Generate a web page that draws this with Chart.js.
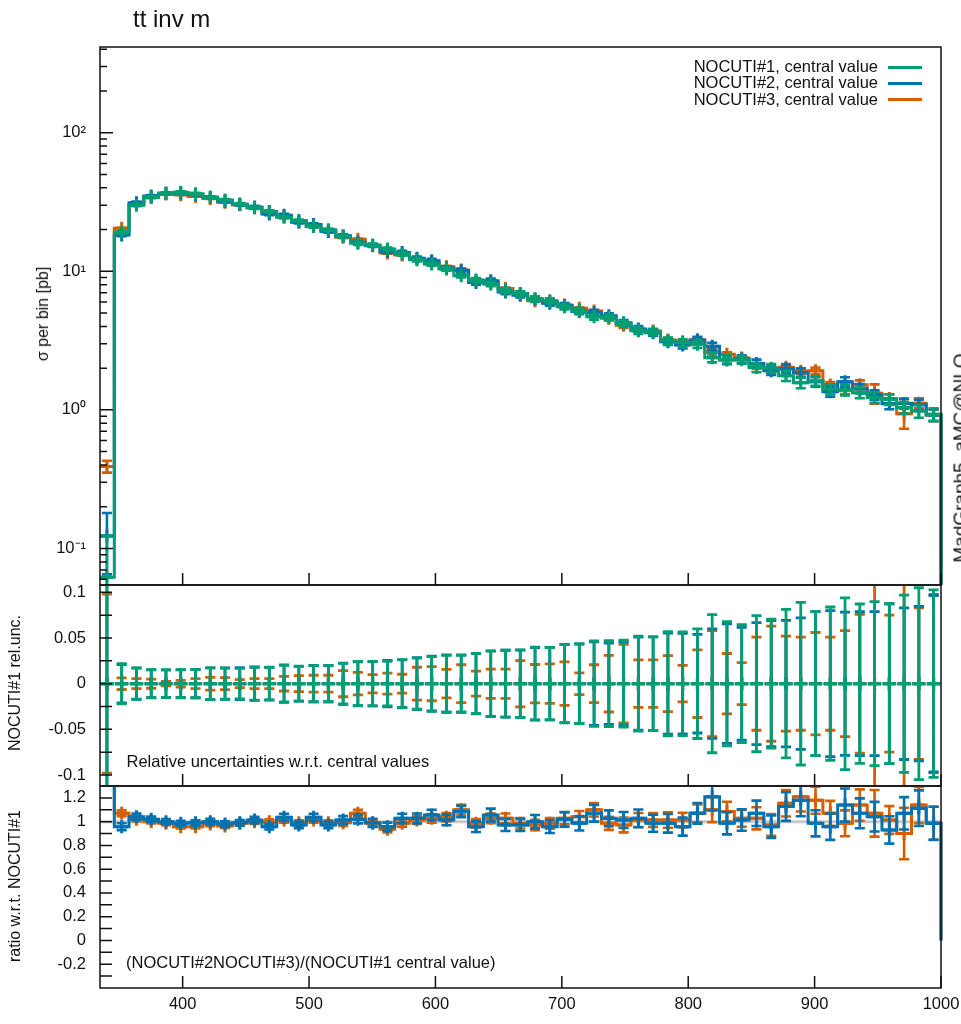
<!DOCTYPE html>
<html><head><meta charset="utf-8">
<script src="https://cdn.jsdelivr.net/npm/chart.js@4.4.1/dist/chart.umd.min.js"></script>
<style>
html,body{margin:0;padding:0;background:#fff;}
#wrap{position:relative;width:961px;height:1024px;overflow:hidden;font-family:"Liberation Sans",Arial,sans-serif;color:#111;}
canvas{position:absolute;left:0;top:0;}
.t{position:absolute;white-space:nowrap;font-size:16.5px;line-height:1;}
.rot{transform:translate(-50%,-50%) rotate(-90deg);}
.lg{position:absolute;height:3px;width:34px;left:888px;}
</style></head>
<body><div id="wrap">
<canvas id="cTop" width="961" height="1024"></canvas>
<canvas id="cRel" width="961" height="1024"></canvas>
<canvas id="cRat" width="961" height="1024"></canvas>
<div class="t" style="left:133px;top:7px;font-size:24px">tt inv m</div>
<div class="t" style="right:83px;top:57.5px;text-align:right">NOCUTI#1, central value</div>
<div class="t" style="right:83px;top:74px;text-align:right">NOCUTI#2, central value</div>
<div class="t" style="right:83px;top:90.5px;text-align:right">NOCUTI#3, central value</div>
<div class="lg" style="top:66px;background:#009E73"></div>
<div class="lg" style="top:82px;background:#0072B2"></div>
<div class="lg" style="top:98px;background:#D55E00"></div>
<div class="t rot" style="left:43px;top:314px;font-size:16px">σ per bin [pb]</div>
<div class="t rot" style="left:15px;top:683px;font-size:16px">NOCUTI#1 rel.unc.</div>
<div class="t rot" style="left:15px;top:886px;font-size:16px">ratio w.r.t. NOCUTI#1</div>
<div class="t rot" style="left:960px;top:458px;font-size:19px">MadGraph5_aMC@NLO</div>
<div class="t" style="left:126.5px;top:752.7px">Relative uncertainties w.r.t. central values</div>
<div class="t" style="left:126px;top:954.3px">(NOCUTI#2NOCUTI#3)/(NOCUTI#1 central value)</div>
</div>
<script>
// ---------------- data ----------------
const binEdges = [334.24,345.92,357.60,369.28,380.96,392.64,404.32,416.00,427.68,439.36,
 451.04,462.72,474.40,486.08,497.76,509.44,521.12,532.80,544.48,556.16,
 567.84,579.52,591.20,602.88,614.56,626.24,637.92,649.60,661.28,672.96,
 684.64,696.32,708.00,719.68,731.36,743.04,754.72,766.40,778.08,789.76,
 801.44,813.12,824.80,836.48,848.16,859.84,871.52,883.20,894.88,906.56,
 918.24,929.92,941.60,953.28,964.96,976.64,988.32,1000.00];
// NOCUTI#1 central value per bin [pb]
const green = [0.062,19.1,30.0,34.2,36.6,37.2,36.2,34.2,32.7,30.6,
 28.7,27.0,24.5,23.2,21.0,19.9,17.8,15.9,15.5,14.5,
 13.3,12.1,11.3,10.4,9.3,8.65,8.1,7.3,6.92,6.31,
 6.13,5.55,5.19,4.70,4.64,4.20,3.72,3.65,3.15,3.06,
 2.98,2.38,2.32,2.30,2.02,2.00,1.76,1.57,1.62,1.41,
 1.40,1.33,1.23,1.19,1.04,0.98,0.93];
// ratio NOCUTI#2 / NOCUTI#1
const ratio2 = [1.98,0.958,1.042,1.02,1.0,0.986,0.99,1.0,0.98,0.99,
 1.014,0.958,1.037,0.972,1.037,0.972,1.014,1.02,0.99,0.958,
 1.028,1.028,1.056,1.014,1.085,0.958,1.056,0.972,0.972,1.0,
 0.958,1.02,0.986,1.07,1.028,1.014,1.028,0.986,0.986,0.958,
 1.07,1.21,0.986,1.014,1.07,0.958,1.127,1.18,0.986,0.958,
 1.14,1.07,1.042,0.93,1.07,1.113,0.986];
// ratio NOCUTI#3 / NOCUTI#1
const ratio3 = [6.3,1.07,1.02,1.0,0.986,0.958,0.958,0.98,0.964,0.986,
 1.0,1.0,1.014,0.99,1.014,0.99,0.99,1.07,0.986,0.935,
 0.986,1.014,1.028,1.037,1.10,0.986,1.028,1.028,0.986,0.972,
 0.986,1.028,1.042,1.10,0.986,0.972,1.014,1.014,1.014,1.014,
 1.07,1.10,1.085,1.028,1.028,0.972,1.155,1.21,1.18,1.07,
 0.986,1.14,1.07,1.014,0.90,1.14,0.986];
// relative uncertainties
const relUnc1 = [1.0,0.022,0.017,0.0154,0.015,0.0154,0.0154,0.0174,0.017,0.0168,
 0.0183,0.018,0.020,0.0192,0.020,0.020,0.0223,0.0244,0.0244,0.0244,
 0.0264,0.028,0.0297,0.031,0.031,0.033,0.0357,0.0366,0.037,0.040,
 0.0396,0.0427,0.0436,0.0467,0.047,0.0476,0.052,0.0513,0.057,0.0568,
 0.060,0.0756,0.068,0.0645,0.0745,0.0705,0.0813,0.089,0.0788,0.0839,
 0.094,0.0872,0.0897,0.0875,0.097,0.105,0.1026];
const relUnc2 = [0.47,0.021,0.0172,0.0152,0.0152,0.015,0.0155,0.0174,0.0172,0.0175,
 0.018,0.0178,0.0205,0.019,0.0198,0.0198,0.0225,0.024,0.0242,0.0255,
 0.026,0.0285,0.0302,0.0315,0.0315,0.0328,0.036,0.0366,0.0368,0.0396,
 0.0396,0.043,0.0434,0.0458,0.0445,0.0458,0.0509,0.0513,0.0553,0.055,
 0.054,0.0599,0.0654,0.0617,0.0668,0.069,0.0692,0.072,0.0788,0.080,
 0.0784,0.0788,0.0788,0.0875,0.083,0.0846,0.0965];
const relUnc3 = [0.098,0.0064,0.0055,0.005,0.0024,0.0037,0.0055,0.007,0.0066,0.0044,
 0.0055,0.0055,0.008,0.0088,0.0092,0.0092,0.0143,0.0123,0.010,0.0115,
 0.0103,0.018,0.0187,0.0156,0.0207,0.0137,0.016,0.016,0.0253,0.021,
 0.0216,0.0238,0.0119,0.0207,0.031,0.043,0.026,0.026,0.0306,0.020,
 0.037,0.058,0.033,0.023,0.051,0.063,0.052,0.051,0.056,0.051,
 0.058,0.076,0.16,0.075,0.22,0.083,0.0976];
// ticks
const xTickValues = [400,500,600,700,800,900,1000];
const xTickLabels = ['400','500','600','700','800','900','1000'];
const sigmaTickValues = [0.1,1,10,100];
const sigmaTickLabels = ['10\u207B\u00B9','10\u2070','10\u00B9','10\u00B2'];
const sigmaMinorTicks = [0.06,0.07,0.08,0.09,0.2,0.3,0.4,0.5,0.6,0.7,0.8,0.9,2,3,4,5,6,7,8,9,20,30,40,50,60,70,80,90,200,300,400];
const relTickValues = [-0.1,-0.05,0,0.05,0.1];
const relTickLabels = ['-0.1','-0.05','0','0.05','0.1'];
const relMinorTicks = [-0.075,-0.025,0.025,0.075];
const ratioTickValues = [-0.2,0,0.2,0.4,0.6,0.8,1,1.2];
const ratioTickLabels = ['-0.2','0','0.2','0.4','0.6','0.8','1','1.2'];
const ratioMinorTicks = [-0.3,-0.1,0.1,0.3,0.5,0.7,0.9,1.1];

// ---------------- helpers ----------------
const C1 = '#009E73', C2 = '#0072B2', C3 = '#D55E00';
const X_MIN = 334.6, X_MAX = 1000;
const CAP = 4; // half cap width in x units
const CLIP = {left: 3, right: 3, top: 0, bottom: 0};

Chart.defaults.font.family = '"Liberation Sans", Arial, sans-serif';
Chart.defaults.font.size = 16.5;
Chart.defaults.color = '#111';

function center(i) { return (binEdges[i] + binEdges[i + 1]) / 2; }
function histPoints(vals, floor) {
  const pts = [{x: binEdges[0], y: floor}];
  for (let i = 0; i < vals.length; i++) {
    pts.push({x: binEdges[i], y: vals[i]});
    pts.push({x: binEdges[i + 1], y: vals[i]});
  }
  pts.push({x: binEdges[vals.length], y: floor});
  return pts;
}
function errPoints(vals, errs, floor, skipAbove) {
  const pts = [];
  for (let i = 0; i < vals.length; i++) {
    if (skipAbove !== undefined && vals[i] > skipAbove) continue;
    const c = center(i);
    let lo = vals[i] - errs[i], hi = vals[i] + errs[i];
    if (floor !== undefined && lo < floor) lo = floor;
    pts.push({x: c, y: lo}, {x: c, y: hi}, {x: c, y: null},
             {x: c - CAP, y: lo}, {x: c + CAP, y: lo}, {x: c, y: null},
             {x: c - CAP, y: hi}, {x: c + CAP, y: hi}, {x: c, y: null});
  }
  return pts;
}
function lineDS(data, color, width, extra) {
  return Object.assign({data, borderColor: color, backgroundColor: color, borderWidth: width,
    pointRadius: 0, pointHoverRadius: 0, fill: false, tension: 0, spanGaps: false,
    borderCapStyle: 'butt', borderJoinStyle: 'miter', clip: CLIP}, extra || {});
}
function markerDS(vals, color) {
  return {data: vals.map((v, i) => ({x: center(i), y: v})), showLine: false,
    pointStyle: 'cross', pointRadius: 6.5, pointHoverRadius: 6.5, pointBorderWidth: 3,
    pointBorderColor: color, pointBackgroundColor: color, borderColor: color, clip: CLIP};
}
function framePlugin(majors, minors, majorLen, minorLen) {
  return {
    id: 'frame',
    afterDatasetsDraw(chart) {
      const {ctx, chartArea: a, scales} = chart;
      ctx.save();
      ctx.strokeStyle = '#111';
      ctx.lineWidth = 1.5;
      ctx.beginPath();
      xTickValues.forEach(v => {
        const px = scales.x.getPixelForValue(v);
        ctx.moveTo(px, a.bottom); ctx.lineTo(px, a.bottom - 12);
      });
      majors.forEach(v => {
        const py = scales.y.getPixelForValue(v);
        ctx.moveTo(a.left, py); ctx.lineTo(a.left + majorLen, py);
      });
      minors.forEach(v => {
        const py = scales.y.getPixelForValue(v);
        ctx.moveTo(a.left, py); ctx.lineTo(a.left + minorLen, py);
      });
      ctx.stroke();
      ctx.strokeRect(a.left, a.top, a.right - a.left, a.bottom - a.top);
      ctx.restore();
    }
  };
}
function xScale(show) {
  return {
    type: 'linear', min: X_MIN, max: X_MAX, bounds: 'data', display: show,
    grid: {display: false, drawTicks: false, tickLength: 0}, border: {display: false},
    afterBuildTicks: s => { s.ticks = xTickValues.map(v => ({value: v})); },
    afterFit: s => { s.height = show ? 30 : 0; s.paddingLeft = 0; s.paddingRight = 0; },
    ticks: {autoSkip: false, maxRotation: 0, padding: 7, color: '#111',
            callback: (v, i) => xTickLabels[i]}
  };
}
function yScale(type, min, max, vals, labels) {
  return {
    type, min, max, bounds: 'data', position: 'left',
    grid: {display: false, drawTicks: false, tickLength: 0}, border: {display: false},
    afterBuildTicks: s => { s.ticks = vals.map(v => ({value: v})); },
    afterFit: s => { s.width = 100; },
    ticks: {autoSkip: false, padding: 14, color: '#111', callback: (v, i) => labels[i]}
  };
}
function baseOptions(pad, scales) {
  return {
    responsive: false, animation: false, devicePixelRatio: 1, events: [],
    layout: {padding: pad},
    plugins: {legend: {display: false}, tooltip: {enabled: false}, title: {display: false}},
    scales
  };
}

// ---------------- top panel ----------------
const blueVals = green.map((g, i) => g * ratio2[i]);
const orangeVals = green.map((g, i) => g * ratio3[i]);
const greenErr = green.map((g, i) => g * relUnc1[i]);
const blueErr = blueVals.map((g, i) => g * relUnc2[i]);
const orangeErr = orangeVals.map((g, i) => g * relUnc3[i]);
const LOGFLOOR = 1e-3;

new Chart(document.getElementById('cTop'), {
  type: 'line',
  data: {datasets: [
    markerDS(green, C1),
    lineDS(errPoints(green, greenErr, LOGFLOOR), C1, 2.6),
    lineDS(histPoints(green, LOGFLOOR), C1, 3),
    markerDS(blueVals, C2),
    lineDS(errPoints(blueVals, blueErr, LOGFLOOR), C2, 2.6),
    lineDS(histPoints(blueVals, LOGFLOOR), C2, 3),
    markerDS(orangeVals, C3),
    lineDS(errPoints(orangeVals, orangeErr, LOGFLOOR), C3, 2.6),
    lineDS(histPoints(orangeVals, LOGFLOOR), C3, 3)
  ]},
  options: baseOptions({top: 47, bottom: 1024 - 585, left: 0, right: 20},
    {x: xScale(false), y: yScale('logarithmic', 0.0545, 415, sigmaTickValues, sigmaTickLabels)}),
  plugins: [framePlugin(sigmaTickValues, sigmaMinorTicks, 13, 7)]
});

// ---------------- relative uncertainty panel ----------------
const zeros = green.map(() => 0);
new Chart(document.getElementById('cRel'), {
  type: 'line',
  data: {datasets: [
    markerDS(zeros, C1),
    lineDS(errPoints(zeros, relUnc1), C1, 2.8),
    markerDS(zeros, C2),
    lineDS(errPoints(zeros, relUnc2), C2, 2.8),
    markerDS(zeros, C3),
    lineDS(errPoints(zeros, relUnc3), C3, 2.8),
    lineDS([{x: binEdges[0], y: 0}, {x: binEdges[binEdges.length - 1], y: 0}], '#c4c4c4', 2.5)
  ]},
  options: baseOptions({top: 585, bottom: 1024 - 786, left: 0, right: 20},
    {x: xScale(false), y: yScale('linear', -0.112, 0.108, relTickValues, relTickLabels)}),
  plugins: [framePlugin(relTickValues, relMinorTicks, 12, 12)]
});

// ---------------- ratio panel ----------------
const ratioErr2 = ratio2.map((r, i) => r * Math.hypot(relUnc1[i], relUnc2[i]));
const ratioErr3 = ratio3.map((r, i) => r * Math.hypot(relUnc1[i], relUnc3[i]));
new Chart(document.getElementById('cRat'), {
  type: 'line',
  data: {datasets: [
    markerDS(ratio2, C2),
    lineDS(errPoints(ratio2, ratioErr2, undefined, 1.3), C2, 2.6),
    lineDS(histPoints(ratio2, 0), C2, 3),
    markerDS(ratio3, C3),
    lineDS(errPoints(ratio3, ratioErr3, undefined, 1.3), C3, 2.6),
    lineDS(histPoints(ratio3, 0), C3, 3),
    lineDS([{x: binEdges[0], y: 1}, {x: binEdges[binEdges.length - 1], y: 1}], '#c8c8c8', 3)
  ]},
  options: baseOptions({top: 786, bottom: 6, left: 0, right: 20},
    {x: xScale(true), y: yScale('linear', -0.4, 1.3, ratioTickValues, ratioTickLabels)}),
  plugins: [framePlugin(ratioTickValues, ratioMinorTicks, 12, 12)]
});
</script>
</body></html>
